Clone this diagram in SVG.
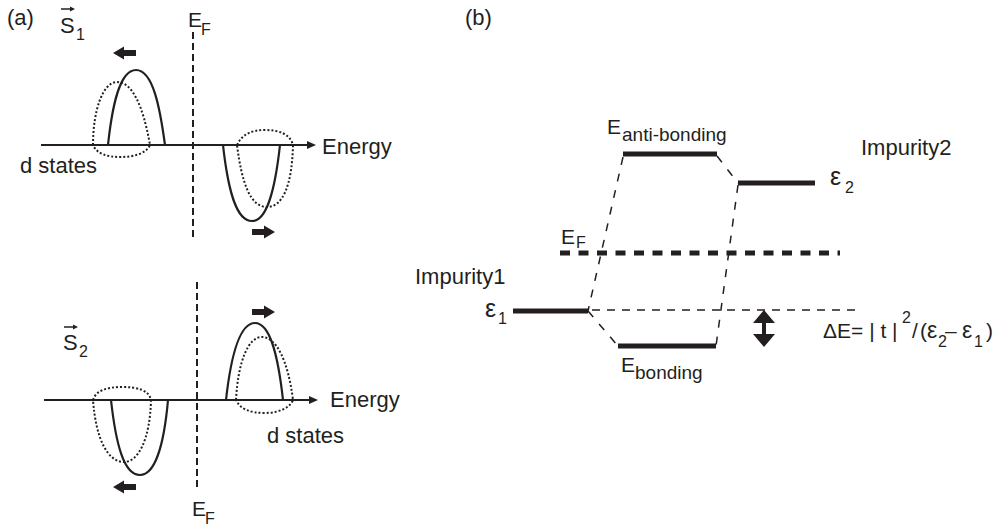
<svg xmlns="http://www.w3.org/2000/svg" width="994" height="529" viewBox="0 0 994 529">
<style>
text{font-family:"Liberation Sans",Arial,Helvetica,sans-serif;fill:#231f20;font-size:22px}
.e{font-size:21px}
.sub{font-size:16px}
.bsub{font-size:19px}
.eps{font-size:25px}
.feps{font-size:23px}
.axis{stroke:#231f20;stroke-width:2;fill:none}
.ef{stroke:#231f20;stroke-width:2;stroke-dasharray:7 4;fill:none}
.solid{stroke:#231f20;stroke-width:2.2;fill:none}
.dot{stroke:#231f20;stroke-width:2;stroke-dasharray:2 2;fill:none}
.bar{stroke:#231f20;stroke-width:5;fill:none}
.thick-dash{stroke:#231f20;stroke-width:5;stroke-dasharray:10 8.5;fill:none}
.thin-dash{stroke:#231f20;stroke-width:1.3;stroke-dasharray:8 7;fill:none}
.conn{stroke:#231f20;stroke-width:1.5;stroke-dasharray:8 9;fill:none}
.fill{fill:#231f20}
.vec{stroke:#231f20;stroke-width:1.5;fill:none}
</style>
<defs>
<path id="fatArrow" d="M0,-3 H12 V-6.5 L23,0 L12,6.5 V3 H0 Z"/>
<path id="axHead" d="M0,0 L-9,-4 L-9,4 Z"/>
<path id="vecHead" d="M0,0 L-5,-2.5 L-5,2.5 Z"/>
</defs>
<rect width="994" height="529" fill="#ffffff"/>

<!-- Panel (a) top -->
<g id="panel-a-top">
<text x="7" y="25">(a)</text>
<g id="s1-label">
<text x="60" y="33">S</text>
<line class="vec" x1="61" y1="9" x2="71" y2="9"/>
<use href="#vecHead" class="fill" transform="translate(75,9)"/>
<text class="sub" x="76" y="40">1</text>
</g>
<g id="ef-top-label">
<text class="e" x="188" y="27">E</text>
<text class="sub" x="201" y="35">F</text>
</g>
<line class="ef" x1="193" y1="32" x2="193" y2="237"/>
<line class="axis" x1="41" y1="145" x2="309" y2="145"/>
<use href="#axHead" class="fill" transform="translate(316,145)"/>
<text x="322" y="154">Energy</text>
<text x="20" y="173">d states</text>
<path class="solid" d="M108,145 C112,108 119,70 136,70 C153,70 160,108 165,145"/>
<path class="dot" d="M93,145 C93,110 103,82 117,82 C132,82 143,105 150,145 C146,154 133,157 121,157 C107,157 97,154 93,145 Z"/>
<path class="solid" d="M223,145 C228,190 236,221 252,221 C267,221 275,190 280,145"/>
<path class="dot" d="M237,145 C242,134 252,130 265,130 C279,130 290,134 293,145 C292,185 283,207 267,207 C251,207 242,185 237,145 Z"/>
<use href="#fatArrow" class="fill" transform="translate(136,53) scale(-1,1)"/>
<use href="#fatArrow" class="fill" transform="translate(252,232)"/>
</g>

<!-- Panel (a) bottom -->
<g id="panel-a-bottom">
<g id="s2-label">
<text x="63" y="350">S</text>
<line class="vec" x1="64" y1="327" x2="74" y2="327"/>
<use href="#vecHead" class="fill" transform="translate(78,327)"/>
<text class="sub" x="79" y="357">2</text>
</g>
<line class="ef" x1="197" y1="282" x2="197" y2="487"/>
<g id="ef-bottom-label">
<text class="e" x="192" y="516">E</text>
<text class="sub" x="205" y="524">F</text>
</g>
<line class="axis" x1="44" y1="400" x2="311" y2="400"/>
<use href="#axHead" class="fill" transform="translate(318,400)"/>
<text x="330" y="407">Energy</text>
<text x="267" y="443">d states</text>
<path class="solid" d="M111,400 C116,445 124,475 140,475 C155,475 164,445 168,400"/>
<path class="dot" d="M93,400 C96,390 108,387 122,387 C137,387 149,390 151,400 C150,440 138,462 124,462 C108,462 96,440 93,400 Z"/>
<path class="solid" d="M226,400 C231,355 240,323 255,323 C270,323 278,355 283,400"/>
<path class="dot" d="M236,400 C238,362 248,337 262,337 C276,337 288,360 293,400 C290,408 278,413 265,413 C250,413 240,409 236,400 Z"/>
<use href="#fatArrow" class="fill" transform="translate(252,312)"/>
<use href="#fatArrow" class="fill" transform="translate(136,487) scale(-1,1)"/>
</g>

<!-- Panel (b) -->
<text x="465" y="25">(b)</text>

<g id="anti-bonding">
<line class="bar" x1="623" y1="154" x2="717" y2="154"/>
<text class="e" x="607" y="134">E</text>
<text class="bsub" x="622" y="141">anti-bonding</text>
</g>

<g id="impurity2">
<line class="bar" x1="738" y1="183" x2="815" y2="183"/>
<text x="861" y="155">Impurity2</text>
<text class="eps" x="830" y="185">ε</text>
<text class="sub" x="845" y="193">2</text>
</g>

<g id="fermi-level">
<line class="thick-dash" x1="560" y1="253" x2="840" y2="253"/>
<text class="e" x="561" y="244">E</text>
<text class="sub" x="576" y="248">F</text>
</g>

<g id="impurity1">
<line class="bar" x1="513" y1="311" x2="588" y2="311"/>
<text x="415" y="284">Impurity1</text>
<text class="eps" x="485" y="317">ε</text>
<text class="sub" x="498" y="324">1</text>
</g>

<g id="bonding">
<line class="bar" x1="618" y1="346" x2="716" y2="346"/>
<text class="e" x="621" y="372">E</text>
<text class="bsub" x="635" y="379">bonding</text>
</g>

<g id="delta-e">
<line class="thin-dash" x1="592" y1="310" x2="860" y2="310"/>
<line x1="764" y1="321" x2="764" y2="336" stroke="#231f20" stroke-width="4"/>
<path class="fill" d="M764,310 L775,323 L753,323 Z M764,347 L775,334 L753,334 Z"/>
<text class="e" x="823" y="338">ΔE= | t |</text>
<text class="sub" x="902" y="323">2</text>
<text class="e" x="912" y="338">/</text>
<text class="e" x="920" y="338">(</text>
<text class="feps" x="927" y="338">ε</text>
<text class="sub" x="938" y="347">2</text>
<text class="e" x="945" y="338">–</text>
<text class="feps" x="962" y="338">ε</text>
<text class="sub" x="974" y="347">1</text>
<text class="e" x="986" y="338">)</text>
</g>

<g id="connectors">
<line class="conn" x1="623" y1="157" x2="588" y2="311"/>
<line class="conn" x1="717" y1="156" x2="738" y2="183"/>
<line class="conn" x1="738" y1="185" x2="716" y2="346"/>
<line class="conn" x1="588" y1="311" x2="618" y2="346"/>
</g>
</svg>
